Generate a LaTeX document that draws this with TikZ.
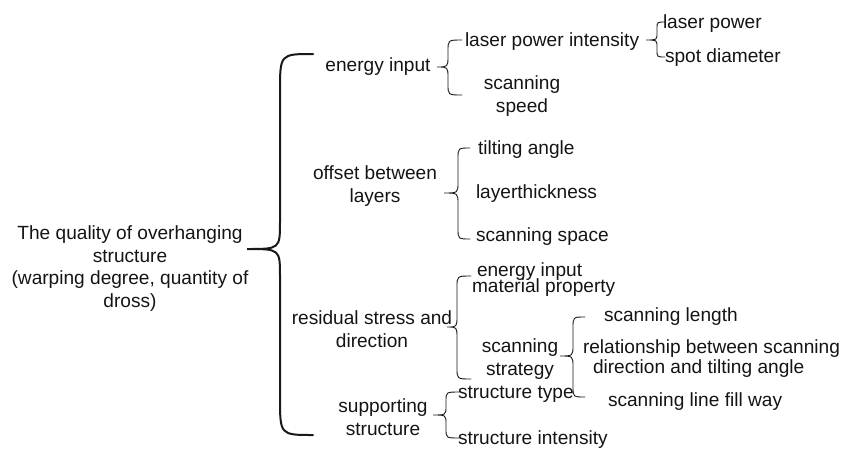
\documentclass[tikz,border=0pt]{standalone}
\usepackage{fontspec}
\setmainfont{Liberation Sans}
\newcommand{\curlybrace}[9]{%
  % #1 style, #2 end x, #3 spine x, #4 tip x, #5 top y, #6 tip y, #7 bottom y, #8 end radius, #9 tip radius
  \draw[#1] (#2,#5) .. controls (#3,#5) .. (#3,{#5+#8}) -- (#3,{#6-#9})
    .. controls (#3,#6) .. (#4,#6) .. controls (#3,#6) .. (#3,{#6+#9})
    -- (#3,{#7-#8}) .. controls (#3,#7) .. (#2,#7);}
\begin{document}
\begin{tikzpicture}[x=1pt,y=-1pt,
  every node/.style={inner sep=0pt,outer sep=0pt,text=black!92,
    font=\fontsize{19.1}{22.5}\selectfont},
  lbl/.style={anchor=base west},
  clbl/.style={anchor=base,align=center},
  brace line/.style={draw=black!90,line width=0.9pt,line cap=round},
  big brace/.style={brace line,line width=2pt}]
\useasboundingbox (0,0) rectangle (857,453);
% root (base anchor = baseline of the last line)
\node[clbl] (root) at (130,307) {The quality of overhanging\\structure\\(warping degree, quantity of\\dross)};
% level 1
\node[clbl] (ei) at (378,71) {energy input};
\node[clbl] (ob) at (375,202) {offset between\\layers};
\node[clbl] (rs) at (372,347) {residual stress and\\direction};
\node[clbl] (ss) at (383,435) {supporting\\structure};
% level 2
\node[lbl] (lpi) at (465,46) {laser power intensity};
\node[clbl] (sp) at (522,112) {scanning\\speed};
\node[lbl] (lp) at (663,28) {laser power};
\node[lbl] (sd) at (665,62) {spot diameter};
\node[lbl] (ta) at (478,154) {tilting angle};
\node[lbl] (lt) at (476,198) {layerthickness};
\node[lbl] (sc) at (476,241) {scanning space};
\node[lbl] (ei2) at (477,276) {energy input};
\node[lbl] (mp) at (472,292) {material property};
\node[clbl] (st) at (520,375) {scanning\\strategy};
\node[lbl] (sl) at (604,321) {scanning length};
\node[lbl] (rel1) at (583,353) {relationship between scanning};
\node[lbl] (rel2) at (593,373) {direction and tilting angle};
\node[lbl] (slf) at (608,406) {scanning line fill way};
\node[lbl] (stt) at (458,398) {structure type};
\node[lbl] (sti) at (458,444) {structure intensity};
% braces
\curlybrace{big brace}{313}{280}{247}{54}{249}{435}{38}{28}
\curlybrace{brace line}{462}{448}{437}{40}{67}{95}{11}{11}
\curlybrace{brace line}{665}{657}{646}{22}{40}{57}{7}{7}
\curlybrace{brace line}{470}{458}{444}{148}{193}{239}{11}{11}
\curlybrace{brace line}{471}{457}{447}{276}{327}{379}{11}{11}
\curlybrace{brace line}{585}{573}{560}{317}{356}{397}{11}{11}
\curlybrace{brace line}{460}{446}{433}{392}{415}{438}{9}{9}
\end{tikzpicture}
\end{document}
